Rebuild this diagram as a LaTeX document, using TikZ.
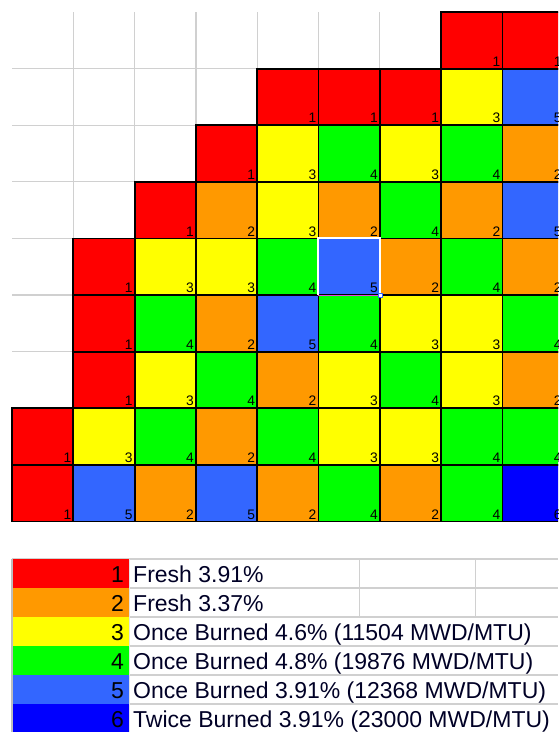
\documentclass[tikz,border=0pt]{standalone}
\usepackage{fontspec}
\setmainfont{Liberation Sans}
\usetikzlibrary{calc}
\definecolor{c1}{HTML}{FF0000}
\definecolor{c2}{HTML}{FF9900}
\definecolor{c3}{HTML}{FFFF00}
\definecolor{c4}{HTML}{00FF00}
\definecolor{c5}{HTML}{3366FF}
\definecolor{c6}{HTML}{0000FF}
\definecolor{gridgray}{HTML}{D0D0D0}
\definecolor{selpink}{HTML}{E040E0}
\begin{document}
\begin{tikzpicture}[x=1pt,y=-1pt,
  gridline/.style={draw=gridgray,line width=1.2pt},
  cell/.style={rectangle,draw=black,line width=1.8pt,minimum width=61.3pt,minimum height=56.6pt,inner sep=0pt},
  digit/.style={anchor=base east,inner sep=0pt,font=\fontsize{13.8}{13.8}\selectfont},
  legcell/.style={rectangle,inner sep=0pt,minimum width=117pt,minimum height=29pt,draw=none},
  legnum/.style={anchor=base east,inner sep=0pt,font=\fontsize{23}{23}\selectfont},
  legtext/.style={anchor=base west,inner sep=0pt,font=\fontsize{23}{23}\selectfont,text=black!85!blue}]
\useasboundingbox (0,0) rectangle (558,732);
\fill[white] (0,0) rectangle (558,732);
\begin{scope}
\clip (0,0) rectangle (558,732);
% light spreadsheet grid
\foreach \i in {1,...,8}{
  \draw[gridline] ({12+61.3*\i},12) -- ({12+61.3*\i},521.4);
  \draw[gridline] (12,{12+56.6*\i}) -- (558,{12+56.6*\i});
}
% core map cells
\foreach \r/\vals in {
  0/{0,0,0,0,0,0,0,1,1},
  1/{0,0,0,0,1,1,1,3,5},
  2/{0,0,0,1,3,4,3,4,2},
  3/{0,0,1,2,3,2,4,2,5},
  4/{0,1,3,3,4,5,2,4,2},
  5/{0,1,4,2,5,4,3,3,4},
  6/{0,1,3,4,2,3,4,3,2},
  7/{1,3,4,2,4,3,3,4,4},
  8/{1,5,2,5,2,4,2,4,6}}{
  \foreach \v [count=\ci from 0] in \vals {
    \ifnum\v>0
      \node[cell,fill=c\v] (g\r-\ci) at ({12+61.3*\ci+30.65},{12+56.6*\r+28.3}) {};
    \fi
  }
}
\foreach \r/\vals in {
  0/{0,0,0,0,0,0,0,1,1},
  1/{0,0,0,0,1,1,1,3,5},
  2/{0,0,0,1,3,4,3,4,2},
  3/{0,0,1,2,3,2,4,2,5},
  4/{0,1,3,3,4,5,2,4,2},
  5/{0,1,4,2,5,4,3,3,4},
  6/{0,1,3,4,2,3,4,3,2},
  7/{1,3,4,2,4,3,3,4,4},
  8/{1,5,2,5,2,4,2,4,6}}{
  \foreach \v [count=\ci from 0] in \vals {
    \ifnum\v>0
      \node[digit] (d\r-\ci) at ($(g\r-\ci.south east)+(-2.8,-3.3)$) {\v};
    \fi
  }
}
% selected cell highlight
\draw[white,line width=1.6pt] ($(g4-5.south west)+(0.5,-1)$) -- ($(g4-5.north west)+(0.5,0.5)$) -- ($(g4-5.north east)+(-0.5,0.5)$) -- ($(g4-5.south east)+(-0.5,-1)$);
\draw[selpink,line width=1.2pt] ($(g4-5.south west)+(0.5,-0.8)$) -- ($(g4-5.south east)+(-0.5,-0.8)$);
\node[rectangle,draw=c5,fill=white,line width=0.6pt,minimum size=4pt,inner sep=0pt] (handle) at ($(g4-5.south east)+(0,-0.5)$) {};
% legend
\foreach \k in {0,...,6}{
  \draw[gridline] (129,{559+29*\k}) -- (558,{559+29*\k});
}
\draw[gridline] (12,559) -- (129,559);
\draw[gridline] (359.3,559) -- (359.3,617);
\draw[gridline] (475.7,559) -- (475.7,617);
\foreach \k in {1,...,6}{
  \node[legcell,fill=c\k] (l\k) at (70.5,{559+29*(\k-1)+14.5}) {};
  \node[legnum] (n\k) at (124,{559+29*(\k-1)+23.3}) {\k};
}
\draw[draw=gridgray!70!black!60,line width=1.5pt] (12,559) -- (12,732);
\draw[draw=gridgray!60,line width=1pt] (129.5,559) -- (129.5,732);
\node[legtext] (t1) at (133,{559+23.3}) {Fresh 3.91\%};
\node[legtext] (t2) at (133,{588+23.3}) {Fresh 3.37\%};
\node[legtext] (t3) at (133,{617+23.3}) {Once Burned 4.6\% (11504 MWD/MTU)};
\node[legtext] (t4) at (133,{646+23.3}) {Once Burned 4.8\% (19876 MWD/MTU)};
\node[legtext] (t5) at (133,{675+23.3}) {Once Burned 3.91\% (12368 MWD/MTU)};
\node[legtext] (t6) at (133,{704+23.3}) {Twice Burned 3.91\% (23000 MWD/MTU)};
\end{scope}
\end{tikzpicture}
\end{document}
